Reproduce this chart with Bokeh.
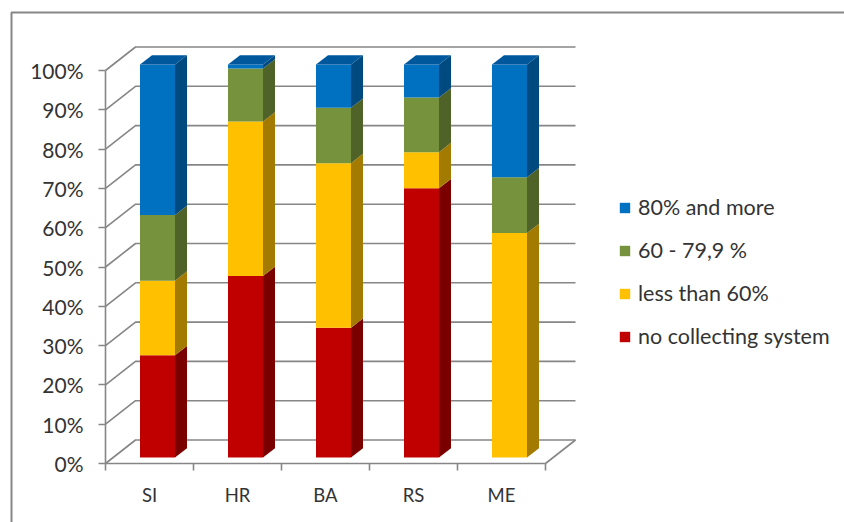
from bokeh.embed import file_html
from bokeh.resources import INLINE
from bokeh.plotting import figure
from bokeh.models import (ColumnDataSource, FixedTicker, Legend, LegendItem, LinearAxis,
                          PrintfTickFormatter, Range1d)

categories = ["SI", "HR", "BA", "RS", "ME"]
no_system = [26.0, 46.2, 33.0, 68.5, 0.0]
less_60 = [19.0, 39.3, 41.9, 9.2, 57.1]
from_60 = [16.7, 13.5, 14.1, 13.9, 14.2]
over_80 = [38.3, 1.0, 11.0, 8.4, 28.7]
series_names = ["no collecting system", "less than 60%", "60 - 79,9 %", "80% and more"]
y_ticks = [0, 10, 20, 30, 40, 50, 60, 70, 80, 90, 100]

FRONT = ["#C00000", "#FFC000", "#76923C", "#0070C0"]
SIDE = ["#7A0000", "#A37B00", "#4F6228", "#004A80"]
TOP = "#00589C"
GRID = "#868686"
TEXT = "#333333"
FONT = "Lato"

W, H = 844, 522
PX_X = 88.0      # pixels per category
PX_Y = 3.93      # pixels per percent
ORG_X, ORG_Y = 105, 463   # pixel position of the origin in the figure

def dx(px):
    return px / PX_X

def dy(px):
    return px / PX_Y

p = figure(width=W, height=H, output_backend="svg", toolbar_location=None,
           x_range=Range1d(-ORG_X / PX_X, (W - ORG_X) / PX_X),
           y_range=Range1d(-(H - ORG_Y) / PX_Y, ORG_Y / PX_Y),
           x_axis_type=None, y_axis_type=None,
           min_border=0, min_border_left=0, min_border_right=0,
           min_border_top=0, min_border_bottom=0, outline_line_color=None)
p.grid.visible = False
p.background_fill_color = "white"

# outer chart frame
x_left, x_right = dx(11 - 105), dx(844 - 105)
y_low, y_up = dy(463 - 522), dy(463 - 12)
p.line([x_left, x_left, x_right], [y_low, y_up, y_up], line_color=GRID, line_width=2)

# 3D walls and grid lines
n = len(categories)
back_x, back_y = dx(30), dy(23.5)
for t in y_ticks:
    p.line([0, back_x, n + back_x], [t, t + back_y, t + back_y], line_color=GRID, line_width=1.6)
p.line([n, n + back_x], [0, back_y], line_color=GRID, line_width=1.6)

# axes
yax = LinearAxis(ticker=FixedTicker(ticks=y_ticks), formatter=PrintfTickFormatter(format="%d%%"),
                 fixed_location=0, bounds=(0, 100))
yax.axis_line_color = GRID
yax.axis_line_width = 1.6
yax.major_tick_line_color = GRID
yax.major_tick_line_width = 1.6
yax.major_tick_out = 7
yax.major_tick_in = 0
yax.minor_tick_line_color = None
yax.major_label_text_font = FONT
yax.major_label_text_font_size = "21px"
yax.major_label_text_color = TEXT
yax.major_label_standoff = 15
p.add_layout(yax, "left")

xax = LinearAxis(ticker=FixedTicker(ticks=list(range(n + 1))), fixed_location=0, bounds=(0, n),
                 major_label_overrides={i: "" for i in range(n + 1)})
xax.axis_line_color = GRID
xax.axis_line_width = 1.6
xax.major_tick_line_color = GRID
xax.major_tick_line_width = 1.6
xax.major_tick_out = 7
xax.major_tick_in = 0
xax.minor_tick_line_color = None
p.add_layout(xax, "below")

centers = [i + 0.5 for i in range(n)]
lab = LinearAxis(ticker=FixedTicker(ticks=centers), fixed_location=0,
                 major_label_overrides={c: s for c, s in zip(centers, categories)})
lab.axis_line_color = None
lab.major_tick_line_color = None
lab.minor_tick_line_color = None
lab.major_tick_out = 0
lab.major_tick_in = 0
lab.major_label_text_font = FONT
lab.major_label_text_font_size = "18.5px"
lab.major_label_text_color = TEXT
lab.major_label_standoff = 20
p.add_layout(lab, "below")

# bars
series = [no_system, less_60, from_60, over_80]
bar_cx = [c + dx(8) for c in centers]
half = dx(17.5)
off_y = dy(6)
dep_x, dep_y = dx(12), dy(9.3)
cum = [0.0] * n
renderers = []
for k, vals in enumerate(series):
    bottoms = [c + off_y for c in cum]
    tops = [c + v + off_y for c, v in zip(cum, vals)]
    lefts = [c - half for c in bar_cx]
    rights = [c + half for c in bar_cx]
    xs = [[r, r + dep_x, r + dep_x, r] for r in rights]
    ys = [[b, b + dep_y, t + dep_y, t] for b, t in zip(bottoms, tops)]
    keep = [i for i, v in enumerate(vals) if v > 0]
    p.patches([xs[i] for i in keep], [ys[i] for i in keep], fill_color=SIDE[k], line_color=None)
    src = ColumnDataSource(dict(left=[lefts[i] for i in keep], right=[rights[i] for i in keep],
                                bottom=[bottoms[i] for i in keep], top=[tops[i] for i in keep]))
    r = p.quad(left="left", right="right", bottom="bottom", top="top", source=src,
               fill_color=FRONT[k], line_color=None)
    renderers.append(r)
    cum = [c + v for c, v in zip(cum, vals)]

top_y = [c + off_y for c in cum]
p.patches([[c - half, c - half + dep_x, c + half + dep_x, c + half] for c in bar_cx],
          [[t, t + dep_y, t + dep_y, t] for t in top_y], fill_color=TOP, line_color=None)

legend = Legend(items=[LegendItem(label=series_names[k], renderers=[renderers[k]]) for k in (3, 2, 1, 0)],
                location=(618, 173), orientation="vertical",
                glyph_width=13, glyph_height=13, label_standoff=7,
                label_text_font=FONT, label_text_font_size="21.5px", label_text_color=TEXT,
                label_height=24, spacing=17, padding=0, margin=0,
                border_line_color=None, background_fill_alpha=0)
p.add_layout(legend, "center")

open("out.html", "w").write(file_html(p, INLINE))
